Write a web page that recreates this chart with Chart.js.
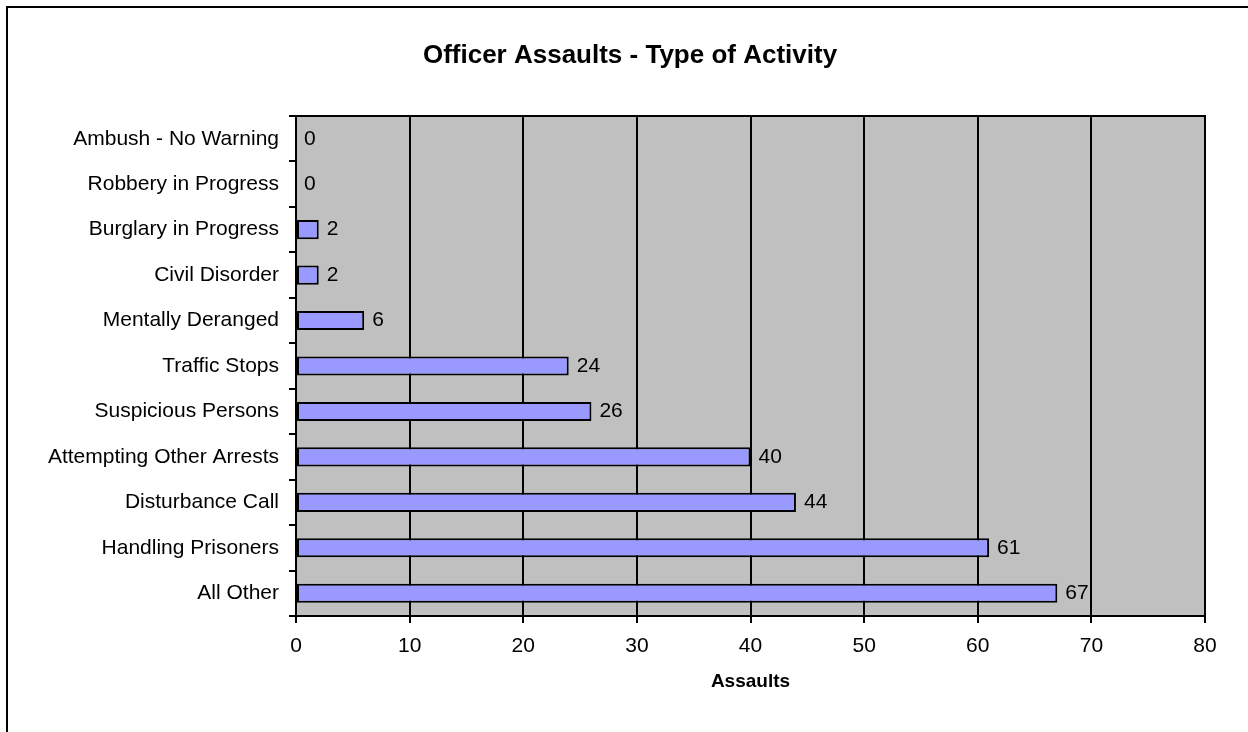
<!DOCTYPE html>
<html>
<head>
    <title>Officer Assaults - Type of Activity</title>
    <meta charset="utf-8">
    <script src="https://cdn.jsdelivr.net/npm/chart.js@4.4.1/dist/chart.umd.min.js"></script>
    <style>
      html, body { margin: 0; padding: 0; background: #fff; }
      .chart-container { position: relative; width: 1248px; height: 732px; }
    </style>
</head>
<body>
    <div class="chart-container">
        <canvas id="chart"></canvas>
    </div>

    <script>
        const chartTitle = 'Officer Assaults - Type of Activity';
        const activities = [
            'Ambush - No Warning',
            'Robbery in Progress',
            'Burglary in Progress',
            'Civil Disorder',
            'Mentally Deranged',
            'Traffic Stops',
            'Suspicious Persons',
            'Attempting Other Arrests',
            'Disturbance Call',
            'Handling Prisoners',
            'All Other'
        ];
        const assaults = [0, 0, 2, 2, 6, 24, 26, 40, 44, 61, 67];
        const xTicks = [0, 10, 20, 30, 40, 50, 60, 70, 80];

        const fontFamily = '"Liberation Sans", Arial, sans-serif';

        // grey plot background, outer frame, title and top edge of the plot
        const frame = {
            id: 'frame',
            beforeDraw(chart) {
                const {ctx, chartArea: a} = chart;
                ctx.save();
                ctx.fillStyle = '#c0c0c0';
                ctx.fillRect(a.left, a.top, a.right - a.left, a.bottom - a.top);
                ctx.strokeStyle = '#000';
                ctx.lineWidth = 2;
                ctx.beginPath();
                ctx.moveTo(7, chart.height);
                ctx.lineTo(7, 7);
                ctx.lineTo(chart.width, 7);
                ctx.stroke();
                // the title sits off-centre from the plot in the original
                ctx.fillStyle = '#000';
                ctx.font = 'bold 26px ' + fontFamily;
                ctx.textAlign = 'center';
                ctx.textBaseline = 'middle';
                ctx.fillText(chartTitle, 630, 56);
                ctx.restore();
            },
            afterDatasetsDraw(chart) {
                const {ctx, chartArea: a} = chart;
                ctx.save();
                ctx.strokeStyle = '#000';
                ctx.lineWidth = 2;
                ctx.strokeRect(a.left, a.top, a.right - a.left, a.bottom - a.top);
                ctx.restore();
            }
        };

        // value next to the end of each bar
        const valueLabels = {
            id: 'valueLabels',
            afterDraw(chart) {
                const {ctx} = chart;
                const meta = chart.getDatasetMeta(0);
                ctx.save();
                ctx.font = '21px ' + fontFamily;
                ctx.fillStyle = '#000';
                ctx.textAlign = 'left';
                ctx.textBaseline = 'middle';
                meta.data.forEach((bar, i) => {
                    ctx.fillText(String(assaults[i]), bar.x + 8, bar.y);
                });
                ctx.restore();
            }
        };

        let ctx = document.getElementById('chart').getContext('2d');
        let chart = new Chart(ctx, {
            type: 'bar',
            data: {
                labels: activities,
                datasets: [{
                    label: 'Assaults',
                    data: assaults,
                    backgroundColor: '#9999ff',
                    borderColor: '#000',
                    borderWidth: 2,
                    borderSkipped: false,
                    barPercentage: 0.42,
                    categoryPercentage: 1
                }]
            },
            options: {
                indexAxis: 'y',
                responsive: true,
                maintainAspectRatio: false,
                animation: false,
                layout: { padding: { left: 0, right: 43, top: 116, bottom: 0 } },
                plugins: {
                    legend: { display: false },
                    tooltip: { enabled: false },
                    title: { display: false }
                },
                scales: {
                    x: {
                        min: 0,
                        max: 80,
                        afterBuildTicks: (scale) => {
                            scale.ticks = xTicks.map(v => ({ value: v }));
                        },
                        afterFit: (scale) => { scale.height = 116; },
                        grid: {
                            color: '#000',
                            lineWidth: 2,
                            tickLength: 7
                        },
                        border: { color: '#000', width: 2 },
                        ticks: {
                            color: '#000',
                            padding: 11,
                            font: { family: fontFamily, size: 21 }
                        },
                        title: {
                            display: true,
                            text: 'Assaults',
                            color: '#000',
                            font: { family: fontFamily, size: 19, weight: 'bold' },
                            padding: { top: 0, bottom: 38.6 }
                        }
                    },
                    y: {
                        afterFit: (scale) => { scale.width = 296; },
                        grid: {
                            color: '#000',
                            lineWidth: 2,
                            tickLength: 7,
                            drawOnChartArea: false,
                            offset: true
                        },
                        border: { color: '#000', width: 2 },
                        ticks: {
                            color: '#000',
                            padding: 10,
                            autoSkip: false,
                            font: { family: fontFamily, size: 21 }
                        }
                    }
                }
            },
            plugins: [frame, valueLabels]
        });
    </script>
</body>
</html>
